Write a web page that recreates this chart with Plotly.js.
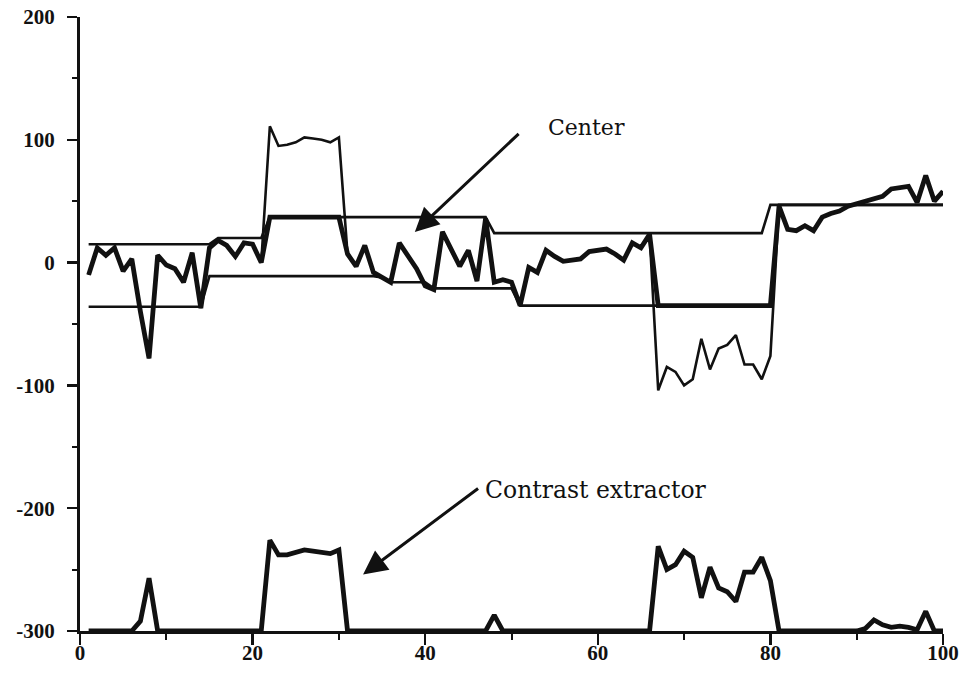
<!DOCTYPE html>
<html>
<head>
<meta charset="utf-8">
<script src="https://cdn.plot.ly/plotly-3.0.1.min.js"></script>
<style>
  html, body { margin: 0; padding: 0; background: #fff; }
  #chart { width: 971px; height: 678px; }
</style>
</head>
<body>
<div id="chart"></div>
<script>
// ---- Data ----
const steps = Array.from({length: 100}, (_, i) => i + 1);

const upperEnvelope = [
  15,15,15,15,15,15,15,15,15,15, 15,15,15,15,15,20,20,20,20,20,
  20,37,37,37,37,37,37,37,37,37, 37,37,37,37,37,37,37,37,37,37,
  37,37,37,37,37,37,37,24,24,24, 24,24,24,24,24,24,24,24,24,24,
  24,24,24,24,24,24,24,24,24,24, 24,24,24,24,24,24,24,24,24,47,
  47,47,47,47,47,47,47,47,47,47, 47,47,47,47,47,47,47,47,47,47
];

const lowerEnvelope = [
  -36,-36,-36,-36,-36,-36,-36,-36,-36,-36, -36,-36,-36,-36,-11,-11,-11,-11,-11,-11,
  -11,-11,-11,-11,-11,-11,-11,-11,-11,-11, -11,-11,-11,-11,-12,-16,-16,-16,-16,-16,
  -21,-21,-21,-21,-21,-21,-21,-21,-21,-21, -35,-35,-35,-35,-35,-35,-35,-35,-35,-35,
  -35,-35,-35,-35,-35,-35,-35,-35,-35,-35, -35,-35,-35,-35,-35,-35,-35,-35,-35,-35,
  47,47,47,47,47,47,47,47,47,47, 47,47,47,47,47,47,47,47,47,47
];

const inputSignal = [
  -10,12,6,12,-7,3,-40,-78,6,-2, -5,-16,8,-37,12,18,14,5,16,15,
  0,111,95,96,98,102,101,100,98,102, 7,-3,14,-8,-12,-16,16,6,-5,-19,
  -22,25,10,-3,10,-15,36,-16,-14,-16, -35,-4,-8,10,5,1,2,3,9,10,
  11,7,2,16,12,23,-104,-85,-89,-100, -95,-62,-87,-70,-67,-59,-83,-83,-95,-76,
  46,27,26,30,26,37,40,42,46,48, 50,52,54,60,61,62,49,71,50,58
];

const centerSignal = [
  -10,12,6,12,-7,3,-40,-78,6,-2, -5,-16,8,-37,12,18,14,5,16,15,
  0,37,37,37,37,37,37,37,37,37, 7,-3,14,-8,-12,-16,16,6,-5,-19,
  -22,25,10,-3,10,-15,36,-16,-14,-16, -35,-4,-8,10,5,1,2,3,9,10,
  11,7,2,16,12,23,-35,-35,-35,-35, -35,-35,-35,-35,-35,-35,-35,-35,-35,-35,
  46,27,26,30,26,37,40,42,46,48, 50,52,54,60,61,62,49,71,50,58
];

const contrastExtractor = [
  -300,-300,-300,-300,-300,-300,-292,-257,-300,-300, -300,-300,-300,-300,-300,-300,-300,-300,-300,-300,
  -300,-226,-238,-238,-236,-234,-235,-236,-237,-234, -300,-300,-300,-300,-300,-300,-300,-300,-300,-300,
  -300,-300,-300,-300,-300,-300,-300,-287,-300,-300, -300,-300,-300,-300,-300,-300,-300,-300,-300,-300,
  -300,-300,-300,-300,-300,-300,-231,-250,-246,-235, -240,-273,-248,-265,-268,-276,-252,-252,-240,-259,
  -300,-300,-300,-300,-300,-300,-300,-300,-300,-300, -298,-291,-295,-297,-296,-297,-299,-284,-300,-300
];

const xTickVals = [0, 20, 40, 60, 80, 100];
const xTickText = ['0', '20', '40', '60', '80', '100'];
const yTickVals = [-300, -200, -100, 0, 100, 200];
const yTickText = ['-300', '-200', '-100', '0', '100', '200'];

const labelCenter = 'Center';
const labelContrast = 'Contrast extractor';

// ---- Styling ----
const ink = '#111111';
const thin = 2.6;
const thick = 4.8;

const traces = [
  {x: steps, y: upperEnvelope, mode: 'lines', line: {color: ink, width: thin}, hoverinfo: 'skip'},
  {x: steps, y: lowerEnvelope, mode: 'lines', line: {color: ink, width: thin}, hoverinfo: 'skip'},
  {x: steps, y: inputSignal, mode: 'lines', line: {color: ink, width: thin}, hoverinfo: 'skip'},
  {x: steps, y: centerSignal, mode: 'lines', line: {color: ink, width: thick}, hoverinfo: 'skip'},
  {x: steps, y: contrastExtractor, mode: 'lines', line: {color: ink, width: thick}, hoverinfo: 'skip'}
];

const tickFont = {family: 'Liberation Serif', size: 21, color: ink, weight: 'bold'};

const layout = {
  width: 971,
  height: 678,
  margin: {l: 80, r: 28, t: 17, b: 47},
  paper_bgcolor: '#ffffff',
  plot_bgcolor: '#ffffff',
  showlegend: false,
  xaxis: {
    range: [0, 100],
    tickmode: 'array',
    tickvals: xTickVals,
    ticktext: xTickText,
    ticks: 'outside',
    ticklen: 11,
    tickwidth: 2.5,
    tickcolor: ink,
    ticklabelstandoff: -10,
    showline: true,
    linewidth: 3,
    linecolor: ink,
    showgrid: false,
    zeroline: false,
    tickfont: tickFont,
    minor: {tickvals: [10, 30, 50, 70, 90], ticks: 'outside', ticklen: 6, tickwidth: 2, tickcolor: ink, showgrid: false}
  },
  yaxis: {
    range: [-300, 200],
    tickmode: 'array',
    tickvals: yTickVals,
    ticktext: yTickText,
    ticks: 'outside',
    ticklen: 10,
    tickwidth: 2.5,
    tickcolor: ink,
    ticklabelstandoff: 8,
    showline: true,
    linewidth: 3,
    linecolor: ink,
    showgrid: false,
    zeroline: false,
    tickfont: tickFont,
    minor: {tickvals: [-250, -150, -50, 50, 150], ticks: 'outside', ticklen: 5, tickwidth: 2, tickcolor: ink, showgrid: false}
  },
  annotations: [
    {x: 54.0, y: 110, xref: 'x', yref: 'y', text: labelCenter, showarrow: false,
     xanchor: 'left', yanchor: 'middle', font: {family: 'DejaVu Serif', size: 22, color: ink}},
    {x: 38.8, y: 25, xref: 'x', yref: 'y', ax: 51.0, ay: 106, axref: 'x', ayref: 'y',
     text: '', showarrow: true, arrowhead: 2, arrowsize: 1.6, arrowwidth: 3, arrowcolor: ink},
    {x: 46.7, y: -185, xref: 'x', yref: 'y', text: labelContrast, showarrow: false,
     xanchor: 'left', yanchor: 'middle', font: {family: 'DejaVu Serif', size: 23.5, color: ink}},
    {x: 32.8, y: -254, xref: 'x', yref: 'y', ax: 46.3, ay: -183, axref: 'x', ayref: 'y',
     text: '', showarrow: true, arrowhead: 2, arrowsize: 1.6, arrowwidth: 3, arrowcolor: ink}
  ]
};

Plotly.newPlot('chart', traces, layout, {displayModeBar: false, staticPlot: true});
</script>
</body>
</html>
